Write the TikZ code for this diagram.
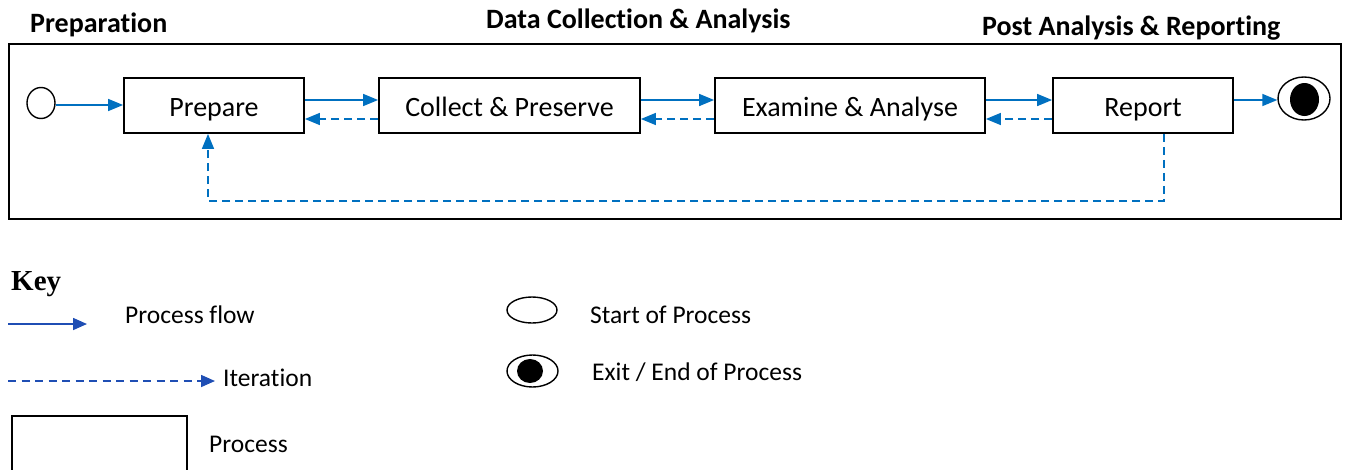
\documentclass[tikz,border=0pt]{standalone}
\usepackage{fontspec}
\setmainfont[Ligatures=NoCommon]{Carlito}
\newfontfamily\keyfont{Liberation Serif}
\usetikzlibrary{arrows.meta,shapes.geometric}
\definecolor{flowblue}{HTML}{0070C0}
\definecolor{keyblue}{HTML}{1F4EB4}
\newcommand{\boxtext}[1]{\raisebox{-10.5pt}[0pt][0pt]{#1}}
\tikzset{
  procbox/.style={draw,line width=1.8pt,rectangle,minimum height=55pt,inner sep=0pt,text height=0pt,text depth=0pt,font=\fontsize{28}{30}\selectfont},
  flow/.style={draw=flowblue,line width=1.6pt,-{Triangle[length=15pt,width=12pt]},color=flowblue},
  iter/.style={flow,dash pattern=on 8pt off 5pt},
  title/.style={font=\bfseries\fontsize{28}{30}\selectfont,anchor=base west,inner sep=0pt},
  keylabel/.style={font=\fontsize{25.5}{28}\selectfont,anchor=base west,inner sep=0pt},
  keyflow/.style={draw=keyblue,line width=1.6pt,-{Triangle[length=14pt,width=12pt]},color=keyblue},
}
\begin{document}
\begin{tikzpicture}[x=1pt,y=-1pt]
\useasboundingbox (0,0) rectangle (1348,469);
% titles
\node[title] (t1) at (30,32) {Preparation};
\node[title] (t2) at (486,28) {Data Collection \& Analysis};
\node[title] (t3) at (982,35) {Post Analysis \& Reporting};
% frame
\draw[line width=1.8pt] (9,44) rectangle (1341,219);
% process boxes
\node[procbox,minimum width=180pt] (prep) at (214,105.5) {\boxtext{Prepare}};
\node[procbox,minimum width=261pt] (coll) at (509.5,105.5) {\boxtext{Collect \& Preserve}};
\node[procbox,minimum width=270pt] (exam) at (850,105.5) {\boxtext{Examine \& Analyse}};
\node[procbox,minimum width=180pt] (rep) at (1143,105.5) {\boxtext{Report}};
% start and end
\node[draw,ellipse,line width=1.4pt,minimum width=28pt,minimum height=31pt,inner sep=0pt] (start) at (41,103) {};
\node[draw,ellipse,line width=1.4pt,minimum width=52pt,minimum height=43pt,inner sep=0pt] (end) at (1304,98.5) {};
\node[fill=black,ellipse,minimum width=29pt,minimum height=33pt,inner sep=0pt] (endin) at (1304.5,99.5) {};
% forward flows
\draw[flow] (start.east |- 0,105) -- (prep.west |- 0,105);
\draw[flow] (prep.east |- 0,100) -- (coll.west |- 0,100);
\draw[flow] (coll.east |- 0,100) -- (exam.west |- 0,100);
\draw[flow] (exam.east |- 0,100) -- (rep.west |- 0,100);
\draw[flow] (rep.east |- 0,100) -- (end.west |- 0,100);
% iterations
\draw[iter] (coll.west |- 0,119) -- (prep.east |- 0,119);
\draw[iter] (exam.west |- 0,119) -- (coll.east |- 0,119);
\draw[iter] (rep.west |- 0,119) -- (exam.east |- 0,119);
\coordinate (lr) at (1164,201);
\coordinate (ll) at (208,201);
\draw[iter] (rep.south -| lr) -- (lr) -- (ll) -- (prep.south -| ll);
% key
\node[font=\keyfont\bfseries\fontsize{29}{30}\selectfont,anchor=base west,inner sep=0pt] (key) at (11,290) {Key};
\coordinate (kf1) at (8,324);
\coordinate (kf2) at (87,324);
\draw[keyflow] (kf1) -- (kf2);
\node[keylabel] (kfl) at (125,323) {Process flow};
\coordinate (ki1) at (8,381);
\coordinate (ki2) at (215,381);
\draw[keyflow,dash pattern=on 8pt off 5.5pt] (ki1) -- (ki2);
\node[keylabel] (kil) at (223,386) {Iteration};
\draw[line width=1.6pt] (12,490) -- (12,416) -- (187,416) -- (187,490);
\node[keylabel] (kpl) at (209,452) {Process};
\node[draw,ellipse,line width=1.4pt,minimum width=50pt,minimum height=26pt,inner sep=0pt] (kstart) at (532,310) {};
\node[keylabel] (ksl) at (590,323) {Start of Process};
\node[draw,ellipse,line width=1.4pt,minimum width=51pt,minimum height=32pt,inner sep=0pt] (kend) at (532.5,371) {};
\node[fill=black,ellipse,minimum width=26pt,minimum height=24pt,inner sep=0pt] (kendin) at (530,371) {};
\node[keylabel] (kel) at (592,380) {Exit / End of Process};
\end{tikzpicture}
\end{document}
